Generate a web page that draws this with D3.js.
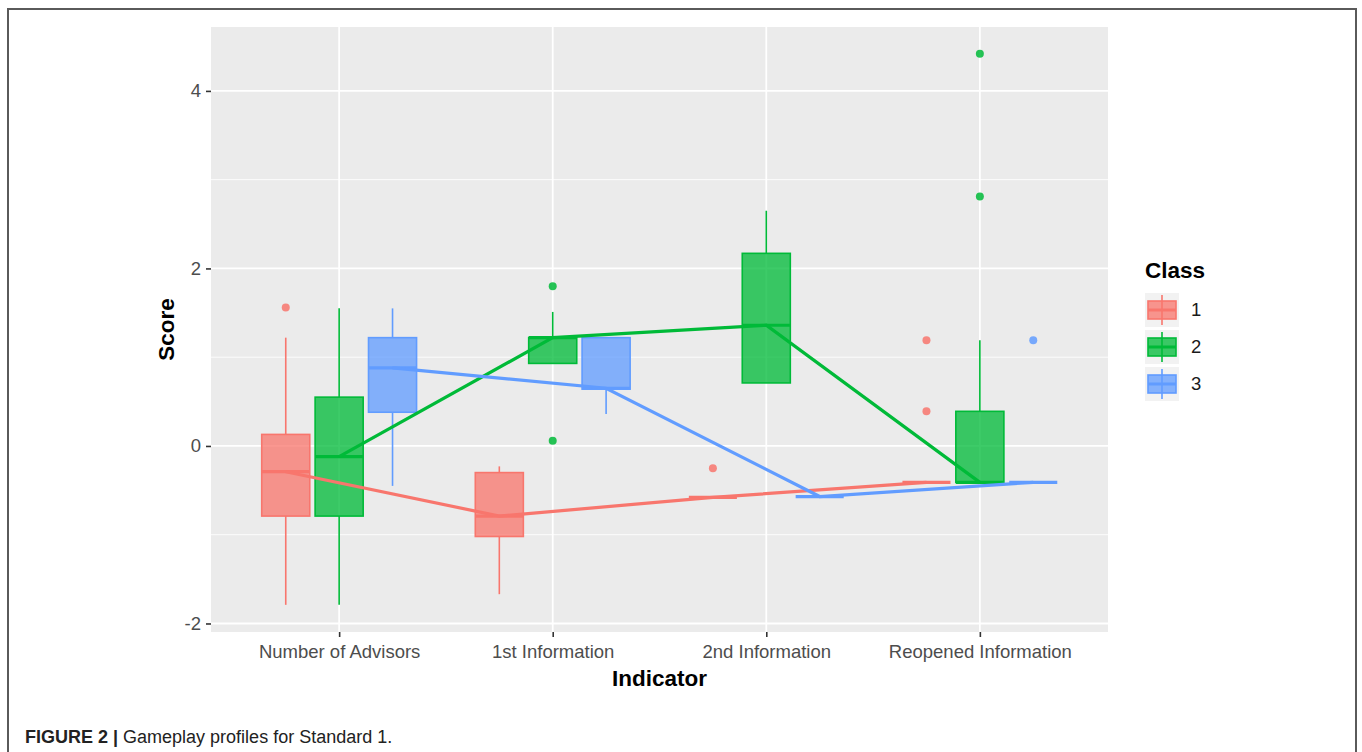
<!DOCTYPE html>
<html>
<head>
<meta charset="utf-8">
<script src="https://cdn.jsdelivr.net/npm/d3@7"></script>
<style>
  body { margin: 0; background: #fff; }
  text { font-family: "Liberation Sans", Arial, sans-serif; }
</style>
</head>
<body>
<div id="chart-container"></div>
<script>
// Categories and classes
const indicators = ["Number of Advisors", "1st Information", "2nd Information", "Reopened Information"];
const classes = ["1", "2", "3"];
const classColors = ["#F8766D", "#00BA38", "#619CFF"];
const yTicks = [-2, 0, 2, 4];
const yMinorTicks = [-1, 1, 3];

// Box stats per indicator: [lower whisker, Q1, median, Q3, upper whisker]
const class1Stats = [[-1.79, -0.79, -0.29, 0.13, 1.22], [-1.67, -1.02, -0.79, -0.30, -0.23], [-0.58, -0.58, -0.58, -0.58, -0.58], [-0.41, -0.41, -0.41, -0.41, -0.41]];
const class2Stats = [[-1.79, -0.79, -0.12, 0.55, 1.55], [0.93, 0.93, 1.22, 1.22, 1.51], [0.71, 0.71, 1.36, 2.17, 2.65], [-0.41, -0.41, -0.41, 0.39, 1.19]];
const class3Stats = [[-0.45, 0.38, 0.88, 1.22, 1.55], [0.36, 0.64, 0.65, 1.22, 1.22], [-0.57, -0.57, -0.57, -0.57, -0.57], [-0.41, -0.41, -0.41, -0.41, -0.41]];

// Outliers per indicator
const class1Outliers = [[1.56], [], [-0.25], [1.19, 0.39]];
const class2Outliers = [[], [1.80, 0.06], [], [2.81, 4.42]];
const class3Outliers = [[], [], [], [1.19]];

const allStats = [class1Stats, class2Stats, class3Stats];
const allOutliers = [class1Outliers, class2Outliers, class3Outliers];

// Dimensions
const width = 1362;
const height = 752;
const panelLeft = 211, panelRight = 1108, panelTop = 27, panelBottom = 632;

const x = d3.scalePoint()
  .domain(indicators)
  .range([panelLeft, panelRight])
  .padding(0.6);

const step = x.step();
const dodge = d3.scaleBand()
  .domain(classes)
  .range([-0.375 * step, 0.375 * step]);
const boxW = dodge.bandwidth() * 0.9;
const cx = (ind, cls) => x(ind) + dodge(cls) + dodge.bandwidth() / 2;

const y = d3.scaleLinear()
  .domain([-2.096, 4.72])
  .range([panelBottom, panelTop]);

const color = d3.scaleOrdinal().domain(classes).range(classColors);

// Flatten box data
const boxes = [];
classes.forEach((c, ci) => {
  indicators.forEach((ind, ii) => {
    const s = allStats[ci][ii];
    boxes.push({ cls: c, ind, lo: s[0], q1: s[1], med: s[2], q3: s[3], hi: s[4], out: allOutliers[ci][ii] });
  });
});

const svg = d3.create("svg")
  .attr("width", width)
  .attr("height", height)
  .attr("viewBox", [0, 0, width, height]);

// Frame
svg.append("path")
  .attr("d", `M8,${height} V9 H1356 V${height}`)
  .attr("fill", "none")
  .attr("stroke", "#5a5a5a")
  .attr("stroke-width", 2);

// Panel
svg.append("rect")
  .attr("x", panelLeft).attr("y", panelTop)
  .attr("width", panelRight - panelLeft).attr("height", panelBottom - panelTop)
  .attr("fill", "#EBEBEB");

// Gridlines
svg.append("g")
  .selectAll("line")
  .data(yMinorTicks)
  .join("line")
  .attr("x1", panelLeft).attr("x2", panelRight)
  .attr("y1", d => y(d)).attr("y2", d => y(d))
  .attr("stroke", "#fff").attr("stroke-width", 0.9);

svg.append("g")
  .selectAll("line")
  .data(yTicks)
  .join("line")
  .attr("x1", panelLeft).attr("x2", panelRight)
  .attr("y1", d => y(d)).attr("y2", d => y(d))
  .attr("stroke", "#fff").attr("stroke-width", 1.8);

svg.append("g")
  .selectAll("line")
  .data(indicators)
  .join("line")
  .attr("x1", d => x(d)).attr("x2", d => x(d))
  .attr("y1", panelTop).attr("y2", panelBottom)
  .attr("stroke", "#fff").attr("stroke-width", 1.8);

// Axes
const xAxis = svg.append("g")
  .attr("transform", `translate(0,${panelBottom})`)
  .call(d3.axisBottom(x).tickSize(5).tickPadding(8))
  .call(g => g.select(".domain").remove());
xAxis.selectAll(".tick line").attr("stroke", "#333").attr("stroke-width", 1.6);
xAxis.selectAll(".tick text")
  .attr("font-size", "18.5px").attr("fill", "#4D4D4D")
  .attr("font-family", "Liberation Sans, Arial, sans-serif");

const yAxis = svg.append("g")
  .attr("transform", `translate(${panelLeft},0)`)
  .call(d3.axisLeft(y).tickValues(yTicks).tickFormat(d => String(d)).tickSize(5).tickPadding(5))
  .call(g => g.select(".domain").remove());
yAxis.selectAll(".tick line").attr("stroke", "#333").attr("stroke-width", 1.6);
yAxis.selectAll(".tick text")
  .attr("font-size", "18.5px").attr("fill", "#4D4D4D")
  .attr("font-family", "Liberation Sans, Arial, sans-serif");

// Axis titles
svg.append("text")
  .attr("x", (panelLeft + panelRight) / 2).attr("y", 686)
  .attr("text-anchor", "middle")
  .attr("font-size", "22.5px").attr("font-weight", "bold")
  .text("Indicator");

svg.append("text")
  .attr("transform", `translate(174,${(panelTop + panelBottom) / 2}) rotate(-90)`)
  .attr("text-anchor", "middle")
  .attr("font-size", "22.5px").attr("font-weight", "bold")
  .text("Score");

// Boxplots
const boxG = svg.append("g");
const bx = boxG.selectAll("g").data(boxes).join("g");

bx.append("line")
  .attr("x1", d => cx(d.ind, d.cls)).attr("x2", d => cx(d.ind, d.cls))
  .attr("y1", d => y(d.q3)).attr("y2", d => y(d.hi))
  .attr("stroke", d => color(d.cls)).attr("stroke-width", 1.6);

bx.append("line")
  .attr("x1", d => cx(d.ind, d.cls)).attr("x2", d => cx(d.ind, d.cls))
  .attr("y1", d => y(d.q1)).attr("y2", d => y(d.lo))
  .attr("stroke", d => color(d.cls)).attr("stroke-width", 1.6);

bx.append("rect")
  .attr("x", d => cx(d.ind, d.cls) - boxW / 2)
  .attr("width", boxW)
  .attr("y", d => y(d.q3))
  .attr("height", d => y(d.q1) - y(d.q3))
  .attr("fill", d => color(d.cls)).attr("fill-opacity", 0.76)
  .attr("stroke", d => color(d.cls)).attr("stroke-width", 1.6);

bx.append("line")
  .attr("x1", d => cx(d.ind, d.cls) - boxW / 2).attr("x2", d => cx(d.ind, d.cls) + boxW / 2)
  .attr("y1", d => y(d.med)).attr("y2", d => y(d.med))
  .attr("stroke", d => color(d.cls)).attr("stroke-width", 3.2);

bx.selectAll("circle")
  .data(d => d.out.map(v => ({ v, cls: d.cls, ind: d.ind })))
  .join("circle")
  .attr("cx", d => cx(d.ind, d.cls))
  .attr("cy", d => y(d.v))
  .attr("r", 4)
  .attr("fill", d => color(d.cls))
  .attr("fill-opacity", 0.85);

// Median profile lines
const line = d3.line()
  .x(d => cx(d.ind, d.cls))
  .y(d => y(d.med));

svg.append("g")
  .selectAll("path")
  .data(classes.map(c => boxes.filter(b => b.cls === c)))
  .join("path")
  .attr("fill", "none")
  .attr("stroke", d => color(d[0].cls))
  .attr("stroke-width", 3.2)
  .attr("d", line);

// Legend
const legend = svg.append("g").attr("transform", "translate(1145,0)");
legend.append("text")
  .attr("x", 0).attr("y", 278)
  .attr("font-size", "22.5px").attr("font-weight", "bold")
  .text("Class");

const keyY = [293, 330, 367];
const keys = legend.selectAll("g.key")
  .data(classes)
  .join("g")
  .attr("class", "key")
  .attr("transform", (d, i) => `translate(0,${keyY[i]})`);

keys.append("rect")
  .attr("width", 34).attr("height", 34)
  .attr("fill", "#F2F2F2");
keys.append("line")
  .attr("x1", 17).attr("x2", 17).attr("y1", 2).attr("y2", 32)
  .attr("stroke", d => color(d)).attr("stroke-width", 1.6);
keys.append("rect")
  .attr("x", 3).attr("y", 8).attr("width", 28).attr("height", 18)
  .attr("fill", d => color(d)).attr("fill-opacity", 0.76)
  .attr("stroke", d => color(d)).attr("stroke-width", 1.6);
keys.append("line")
  .attr("x1", 3).attr("x2", 31).attr("y1", 17).attr("y2", 17)
  .attr("stroke", d => color(d)).attr("stroke-width", 3);
keys.append("text")
  .attr("x", 46).attr("y", 17)
  .attr("dy", "0.35em")
  .attr("font-size", "18.5px").attr("fill", "#1a1a1a")
  .text(d => d);

// Caption
const cap = svg.append("text")
  .attr("x", 25).attr("y", 743)
  .attr("font-size", "18px").attr("fill", "#222");
cap.append("tspan").attr("font-weight", "bold").text("FIGURE 2 | ");
cap.append("tspan").text("Gameplay profiles for Standard 1.");

document.getElementById("chart-container").appendChild(svg.node());
</script>
</body>
</html>
